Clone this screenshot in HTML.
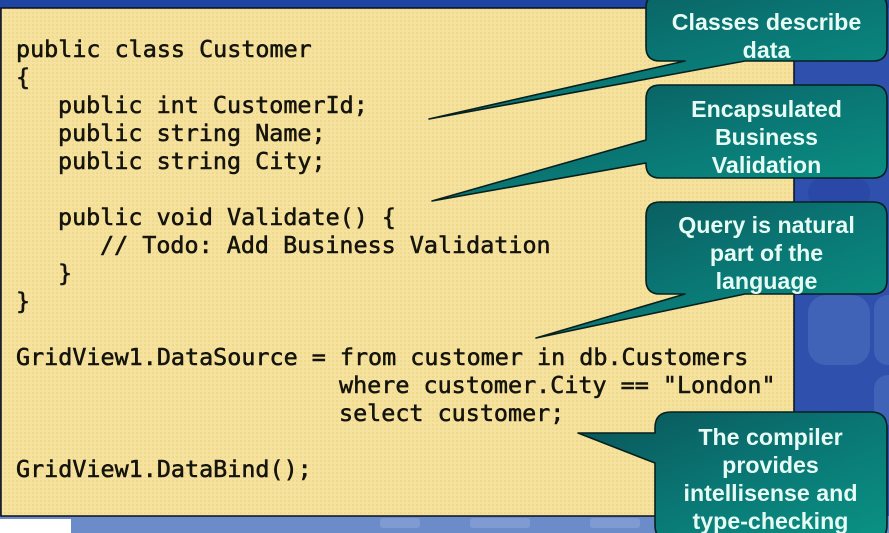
<!DOCTYPE html>
<html><head><meta charset="utf-8"><style>
html,body{margin:0;padding:0;background:#2f50ad;width:889px;height:533px;overflow:hidden}
svg{display:block}
.c{font-family:"DejaVu Sans Mono","Liberation Mono",monospace;font-size:23.4px;font-weight:400;fill:#14140c;stroke:#14140c;stroke-width:.55px;white-space:pre}
.t{font-family:"Liberation Sans",Arial,sans-serif;font-weight:700;font-size:23.2px;fill:#e6fbf4;text-anchor:middle}
</style></head><body>
<svg width="889" height="533" viewBox="0 0 889 533" xmlns="http://www.w3.org/2000/svg">
<defs>
<pattern id="d" width="4" height="4" patternUnits="userSpaceOnUse"><rect width="4" height="4" fill="#f6e29f"/><rect width="2" height="2" fill="#f1d98c"/></pattern>
<linearGradient id="g" x1="0" y1="0" x2="1" y2="1"><stop offset="0" stop-color="#0a5457"/><stop offset=".5" stop-color="#0a7674"/><stop offset="1" stop-color="#0a9384"/></linearGradient>
</defs>
<rect width="889" height="533" fill="#2f50ad"/>
<rect width="889" height="8" fill="#1f45a2"/>
<rect x="808" y="295" width="62" height="70" rx="18" fill="#4063b8"/>
<rect x="874" y="295" width="30" height="70" rx="14" fill="#4063b8"/>
<rect x="874" y="375" width="30" height="50" rx="14" fill="#4063b8"/>
<rect x="808" y="178" width="62" height="30" rx="14" fill="#2a49a6"/>
<rect x="0" y="516" width="889" height="17" fill="#6c8cc9"/>
<rect x="380" y="518" width="40" height="10" rx="3" fill="#7f9bd2"/>
<rect x="470" y="518" width="60" height="10" rx="3" fill="#7f9bd2"/>
<rect x="590" y="518" width="50" height="10" rx="3" fill="#7f9bd2"/>
<rect x="0" y="519" width="71" height="14" fill="#fff"/>
<rect x="1" y="8" width="793" height="508" fill="url(#d)" stroke="#0b0f1a" stroke-width="1.5"/>
<text class="c" x="16" y="57">public class Customer</text>
<text class="c" x="16" y="85">{</text>
<text class="c" x="58" y="113">public int CustomerId;</text>
<text class="c" x="58" y="141">public string Name;</text>
<text class="c" x="58" y="169">public string City;</text>
<text class="c" x="58" y="225">public void Validate() {</text>
<text class="c" x="100" y="253">// Todo: Add Business Validation</text>
<text class="c" x="58" y="281">}</text>
<text class="c" x="16" y="309">}</text>
<text class="c" x="16" y="365">GridView1.DataSource = from customer in db.Customers</text>
<text class="c" x="339" y="393">where customer.City == "London"</text>
<text class="c" x="339" y="421">select customer;</text>
<text class="c" x="16" y="477">GridView1.DataBind();</text>
<path d="M659 -6H873Q887 -6 887 8V47Q887 61 873 61H745L429 119L685 61H660Q646 61 646 47V8Q646 -6 659 -6Z" fill="url(#g)" stroke="#06201f" stroke-width="1.6" stroke-linejoin="round"/>
<path d="M660 85H873Q887 85 887 99V164Q887 178 873 178H660Q646 178 646 164V163L432 201L646 140V99Q646 85 660 85Z" fill="url(#g)" stroke="#06201f" stroke-width="1.6" stroke-linejoin="round"/>
<path d="M660 202H873Q887 202 887 216V280Q887 294 873 294H745L536 338L685 294H660Q646 294 646 280V216Q646 202 660 202Z" fill="url(#g)" stroke="#06201f" stroke-width="1.6" stroke-linejoin="round"/>
<path d="M671 412H871Q887 412 887 428V525Q887 541 871 541H671Q655 541 655 525V463L578 433H655V428Q655 412 671 412Z" fill="url(#g)" stroke="#06201f" stroke-width="1.6" stroke-linejoin="round"/>
<text class="t" x="766.500" y="30">Classes describe</text>
<text class="t" x="766.500" y="58">data</text>
<text class="t" x="766.500" y="117">Encapsulated</text>
<text class="t" x="766.500" y="145">Business</text>
<text class="t" x="766.500" y="173">Validation</text>
<text class="t" x="766.500" y="233">Query is natural</text>
<text class="t" x="766.500" y="261">part of the</text>
<text class="t" x="766.500" y="289">language</text>
<text class="t" x="770.500" y="445">The compiler</text>
<text class="t" x="770.500" y="473">provides</text>
<text class="t" x="770.500" y="501">intellisense and</text>
<text class="t" x="770.500" y="529">type-checking</text>
</svg>
</body></html>
